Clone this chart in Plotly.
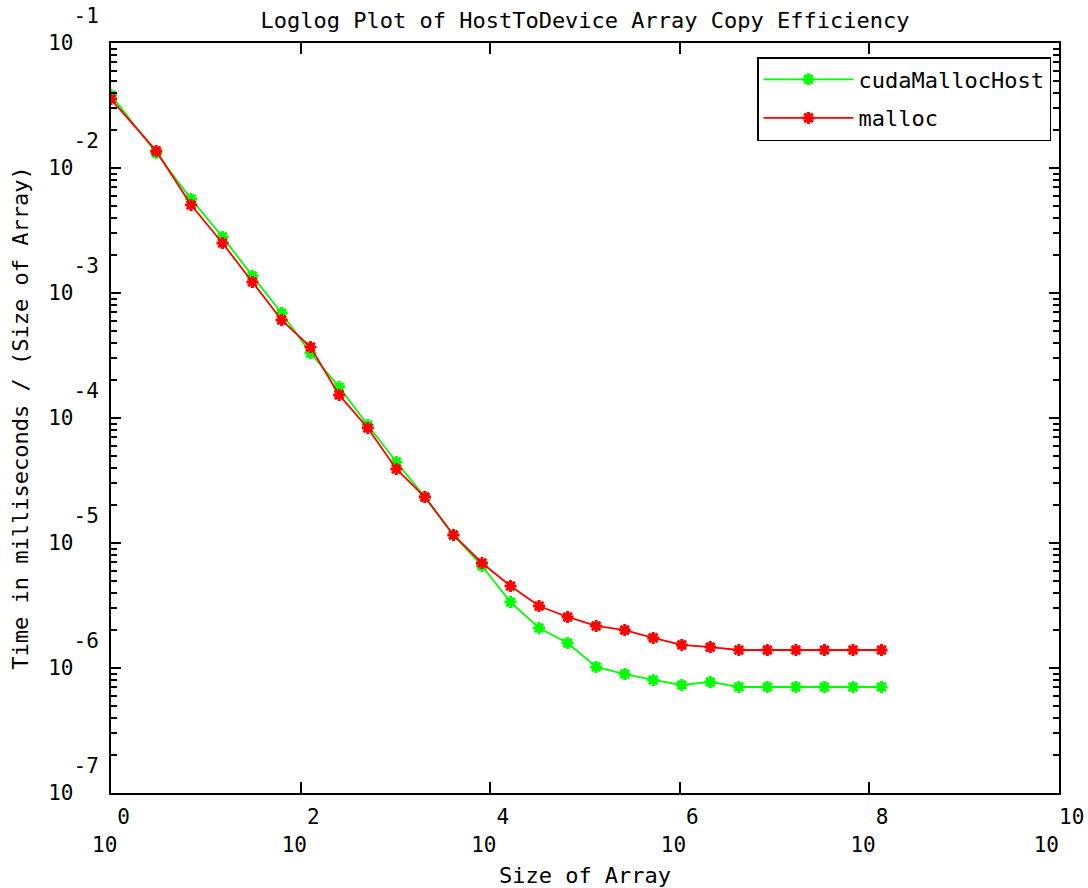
import plotly.graph_objects as go

# ---- data ----
array_sizes = [1, 3, 7, 15, 31, 63, 127, 255, 511, 1023, 2047, 4095, 8191, 16383,
               32767, 65535, 131071, 262143, 524287, 1048575, 2097151, 4194303,
               8388607, 16777215, 33554431, 67108863, 134217727]

cuda_malloc_host = [3.84e-2, 1.32e-2, 5.65e-3, 2.81e-3, 1.37e-3, 6.92e-4, 3.31e-4,
                    1.77e-4, 8.79e-5, 4.45e-5, 2.33e-5, 1.16e-5, 6.55e-6, 3.37e-6,
                    2.09e-6, 1.585e-6, 1.02e-6, 8.95e-7, 8.02e-7, 7.31e-7, 7.73e-7,
                    7.05e-7, 7.05e-7, 7.05e-7, 7.05e-7, 7.05e-7, 7.05e-7]

malloc_vals = [3.56e-2, 1.37e-2, 5.06e-3, 2.51e-3, 1.225e-3, 6.08e-4, 3.70e-4,
               1.53e-4, 8.32e-5, 3.91e-5, 2.33e-5, 1.16e-5, 6.92e-6, 4.53e-6,
               3.13e-6, 2.56e-6, 2.17e-6, 2.01e-6, 1.74e-6, 1.53e-6, 1.47e-6,
               1.393e-6, 1.393e-6, 1.393e-6, 1.393e-6, 1.393e-6, 1.393e-6]

series_names = ["cudaMallocHost", "malloc"]
series_colors = ["#00FF00", "#FF0000"]

x_tick_exponents = [0, 2, 4, 6, 8, 10]
y_tick_exponents = [-1, -2, -3, -4, -5, -6, -7]

title_text = "Loglog Plot of HostToDevice Array Copy Efficiency"
x_title = "Size of Array"
y_title = "Time in milliseconds / (Size of Array)"

FONT = "DejaVu Sans Mono, Liberation Mono, monospace"
NB = "\u00a0"


def x_label(e):
    s = str(e)
    n = len(s)
    w = max(2 + n, 3)
    top = NB * (w - n) + s
    bot = "10" + NB * (w - 2)
    return top + "<br>" + bot


def y_label(e):
    s = str(e)
    n = len(s)
    top = NB * 2 + s
    bot = "10" + NB * n
    return top + "<br>" + bot + "<br>" + NB


fig = go.Figure()
for name, vals, col in zip(series_names, [cuda_malloc_host, malloc_vals], series_colors):
    fig.add_trace(go.Scatter(
        x=array_sizes, y=vals, name=name, mode="lines+markers",
        legendgroup=name,
        line=dict(color=col, width=1.8),
        marker=dict(symbol="asterisk-open", size=10, color=col,
                    line=dict(color=col, width=3)),
    ))

y_minor = []
for e in range(-7, -1):
    for m in range(2, 10):
        y_minor.append(m * 10.0 ** e)

fig.update_layout(
    width=1088, height=888,
    margin=dict(l=111, r=29, t=43, b=95),
    paper_bgcolor="white", plot_bgcolor="white",
    font=dict(family=FONT, size=22, color="black"),
    title=dict(text=title_text, x=0.5, xref="paper", xanchor="center",
               y=1 - 20 / 888, yref="container", yanchor="middle",
               font=dict(family=FONT, size=22, color="black")),
    showlegend=True,
    legend=dict(x=1 - 8 / 948, xref="paper", xanchor="right",
                y=1 - 14 / 750, yref="paper", yanchor="top",
                bordercolor="black", borderwidth=1.5, bgcolor="white",
                font=dict(family=FONT, size=22, color="black"),
                itemwidth=90, tracegroupgap=7, traceorder="grouped"),
    xaxis=dict(
        type="log", range=[0, 10], showgrid=False, zeroline=False,
        automargin=False,
        showline=True, linecolor="black", linewidth=2, mirror="ticks",
        ticks="inside", ticklen=11, tickwidth=2, tickcolor="black",
        tickvals=[10 ** e for e in x_tick_exponents],
        ticktext=[x_label(e) for e in x_tick_exponents],
        tickfont=dict(family=FONT, size=21, color="black"),
        ticklabelstandoff=4,
        title=dict(text=x_title, standoff=16,
                   font=dict(family=FONT, size=22, color="black")),
    ),
    yaxis=dict(
        type="log", range=[-7, -1], showgrid=False, zeroline=False,
        automargin=False,
        showline=True, linecolor="black", linewidth=2, mirror="ticks",
        ticks="inside", ticklen=10, tickwidth=2, tickcolor="black",
        tickvals=[10.0 ** e for e in y_tick_exponents],
        ticktext=[y_label(e) for e in y_tick_exponents],
        tickfont=dict(family=FONT, size=21, color="black"),
        ticklabelstandoff=6,
        minor=dict(ticks="inside", ticklen=6, tickwidth=2, tickcolor="black",
                   tickvals=y_minor, showgrid=False),
        title=dict(text=y_title, standoff=14,
                   font=dict(family=FONT, size=22, color="black")),
    ),
)

fig.write_html("out.html")
